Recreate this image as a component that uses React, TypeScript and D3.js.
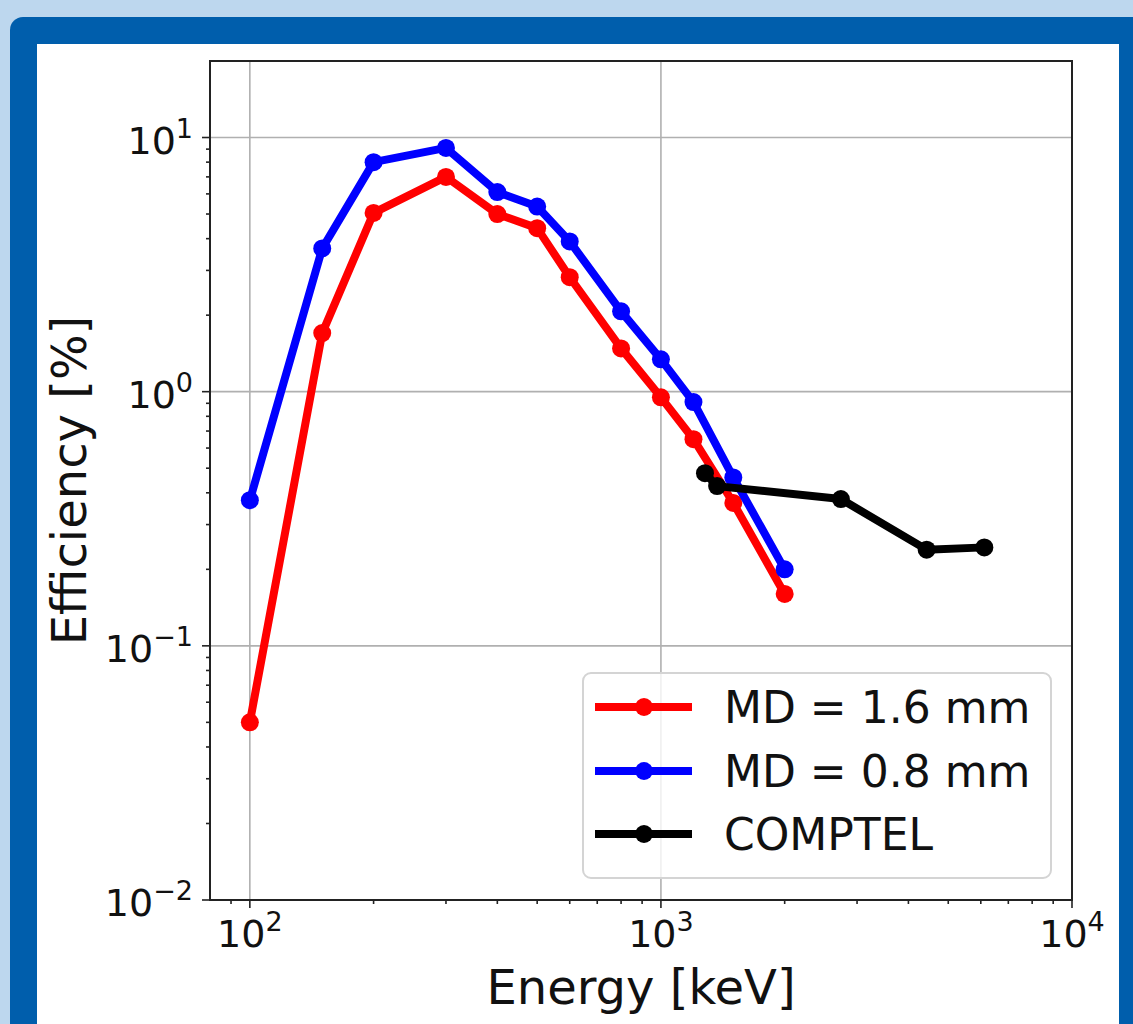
import React, { useEffect, useRef } from 'react';
import * as d3 from 'd3';

// energies in keV
const energies = [100, 150, 200, 300, 400, 500, 600, 800, 1000, 1200, 1500, 2000];
// efficiency [%] for MD = 1.6 mm
const effMd16 = [0.05, 1.7, 5.05, 7.0, 5.0, 4.4, 2.82, 1.48, 0.95, 0.65, 0.365, 0.16];
// efficiency [%] for MD = 0.8 mm
const effMd08 = [0.374, 3.66, 8.0, 9.1, 6.1, 5.35, 3.9, 2.07, 1.34, 0.91, 0.46, 0.2];
// COMPTEL reference points
const comptelEnergies = [1280, 1370, 2740, 4430, 6120];
const comptelEff = [0.478, 0.425, 0.378, 0.239, 0.244];

const seriesNames = ['MD = 1.6 mm', 'MD = 0.8 mm', 'COMPTEL'];
const seriesColors = ['#ff0000', '#0000ff', '#000000'];

const xMajorTicks = [100, 1000, 10000];
const yMajorTicks = [0.01, 0.1, 1, 10];
const xTickExp = ['2', '3', '4'];
const yTickExp = ['\u22122', '\u22121', '0', '1'];

const FONT = 'DejaVu Sans, sans-serif';

const App = () => {
  const svgRef = useRef<SVGSVGElement>(null);

  useEffect(() => {
    document.body.style.margin = '0';
    const svg = d3.select(svgRef.current);
    svg.selectAll('*').remove();

    const W = 1133;
    const H = 1024;
    const plot = { left: 210, right: 1072, top: 61, bottom: 900 };

    // page background + blue frame
    svg.append('rect').attr('width', W).attr('height', H).attr('fill', '#bdd7ee');
    svg.append('rect')
      .attr('x', 10).attr('y', 17)
      .attr('width', W + 40).attr('height', H + 40)
      .attr('rx', 13)
      .attr('fill', '#005eac');
    svg.append('rect')
      .attr('x', 37).attr('y', 44)
      .attr('width', 1119 - 37).attr('height', H)
      .attr('fill', '#ffffff');

    const x = d3.scaleLog().domain([80, 10000]).range([plot.left, plot.right]);
    const y = d3.scaleLog().domain([0.01, 20]).range([plot.bottom, plot.top]);

    // minor ticks
    const xMinor: number[] = [];
    const yMinor: number[] = [];
    [10, 100, 1000].forEach(d => {
      for (let k = 2; k <= 9; k++) {
        const v = d * k;
        if (v > 80 && v < 10000) xMinor.push(v);
      }
    });
    [0.01, 0.1, 1, 10].forEach(d => {
      for (let k = 2; k <= 9; k++) {
        const v = d * k;
        if (v > 0.01 && v < 20) yMinor.push(v);
      }
    });

    // grid
    const grid = svg.append('g').attr('stroke', '#b0b0b0').attr('stroke-width', 1.6);
    grid.selectAll('line.gx')
      .data(xMajorTicks.filter(v => v > 80 && v < 10000))
      .join('line')
        .attr('x1', d => x(d)).attr('x2', d => x(d))
        .attr('y1', plot.top).attr('y2', plot.bottom);
    grid.selectAll('line.gy')
      .data(yMajorTicks.filter(v => v > 0.01 && v < 20))
      .join('line')
        .attr('class', 'gy')
        .attr('x1', plot.left).attr('x2', plot.right)
        .attr('y1', d => y(d)).attr('y2', d => y(d));

    // series
    const line = d3.line<[number, number]>()
      .x(d => x(d[0]))
      .y(d => y(d[1]));

    const series: [number, number][][] = [
      energies.map((e, i) => [e, effMd16[i]]),
      energies.map((e, i) => [e, effMd08[i]]),
      comptelEnergies.map((e, i) => [e, comptelEff[i]])
    ];

    series.forEach((pts, i) => {
      const g = svg.append('g');
      g.append('path')
        .attr('d', line(pts))
        .attr('fill', 'none')
        .attr('stroke', seriesColors[i])
        .attr('stroke-width', 8)
        .attr('stroke-linejoin', 'round');
      g.selectAll('circle')
        .data(pts)
        .join('circle')
          .attr('cx', d => x(d[0]))
          .attr('cy', d => y(d[1]))
          .attr('r', 9)
          .attr('fill', seriesColors[i]);
    });

    // spines
    svg.append('rect')
      .attr('x', plot.left).attr('y', plot.top)
      .attr('width', plot.right - plot.left).attr('height', plot.bottom - plot.top)
      .attr('fill', 'none')
      .attr('stroke', '#222')
      .attr('stroke-width', 2);

    // ticks
    const ticks = svg.append('g').attr('stroke', '#222').attr('stroke-width', 1.6);
    ticks.selectAll('line.xM')
      .data(xMajorTicks)
      .join('line')
        .attr('class', 'xM')
        .attr('x1', d => x(d)).attr('x2', d => x(d))
        .attr('y1', plot.bottom).attr('y2', plot.bottom + 8);
    ticks.selectAll('line.xm')
      .data(xMinor)
      .join('line')
        .attr('class', 'xm')
        .attr('x1', d => x(d)).attr('x2', d => x(d))
        .attr('y1', plot.bottom).attr('y2', plot.bottom + 4);
    ticks.selectAll('line.yM')
      .data(yMajorTicks)
      .join('line')
        .attr('class', 'yM')
        .attr('x1', plot.left - 8).attr('x2', plot.left)
        .attr('y1', d => y(d)).attr('y2', d => y(d));
    ticks.selectAll('line.ym')
      .data(yMinor)
      .join('line')
        .attr('class', 'ym')
        .attr('x1', plot.left - 4).attr('x2', plot.left)
        .attr('y1', d => y(d)).attr('y2', d => y(d));

    // tick labels
    const xLab = svg.append('g')
      .style('font-family', FONT)
      .attr('fill', '#111');
    xMajorTicks.forEach((v, i) => {
      const t = xLab.append('text')
        .attr('x', x(v))
        .attr('y', plot.bottom + 47)
        .attr('text-anchor', 'middle');
      t.append('tspan').style('font-size', '38px').text('10');
      t.append('tspan').style('font-size', '27px').attr('dy', -16).text(xTickExp[i]);
    });
    yMajorTicks.forEach((v, i) => {
      const t = xLab.append('text')
        .attr('x', plot.left - 17)
        .attr('y', y(v) + 16)
        .attr('text-anchor', 'end');
      t.append('tspan').style('font-size', '38px').text('10');
      t.append('tspan').style('font-size', '27px').attr('dy', -16).text(yTickExp[i]);
    });

    // axis labels
    svg.append('text')
      .attr('x', (plot.left + plot.right) / 2)
      .attr('y', 1004)
      .attr('text-anchor', 'middle')
      .style('font-family', FONT)
      .style('font-size', '48px')
      .attr('fill', '#111')
      .text('Energy [keV]');
    svg.append('text')
      .attr('transform', `translate(86,${(plot.top + plot.bottom) / 2}) rotate(-90)`)
      .attr('text-anchor', 'middle')
      .style('font-family', FONT)
      .style('font-size', '48px')
      .attr('fill', '#111')
      .text('Efficiency [%]');

    // legend
    const legend = svg.append('g');
    legend.append('rect')
      .attr('x', 583).attr('y', 673)
      .attr('width', 468).attr('height', 205)
      .attr('rx', 8)
      .attr('fill', 'rgba(255,255,255,0.8)')
      .attr('stroke', '#d4d4d4')
      .attr('stroke-width', 2);
    const rowY = [707, 771, 834];
    seriesNames.forEach((name, i) => {
      legend.append('line')
        .attr('x1', 595).attr('x2', 692)
        .attr('y1', rowY[i]).attr('y2', rowY[i])
        .attr('stroke', seriesColors[i])
        .attr('stroke-width', 8);
      legend.append('circle')
        .attr('cx', 644).attr('cy', rowY[i])
        .attr('r', 9)
        .attr('fill', seriesColors[i]);
      legend.append('text')
        .attr('x', 724)
        .attr('y', rowY[i] + 16)
        .style('font-family', FONT)
        .style('font-size', '44px')
        .attr('fill', '#111')
        .text(name);
    });
  }, []);

  return (
    <svg
      ref={svgRef}
      width={1133}
      height={1024}
      style={{ display: 'block', position: 'absolute', top: 0, left: 0 }}
    />
  );
};

export default App;
